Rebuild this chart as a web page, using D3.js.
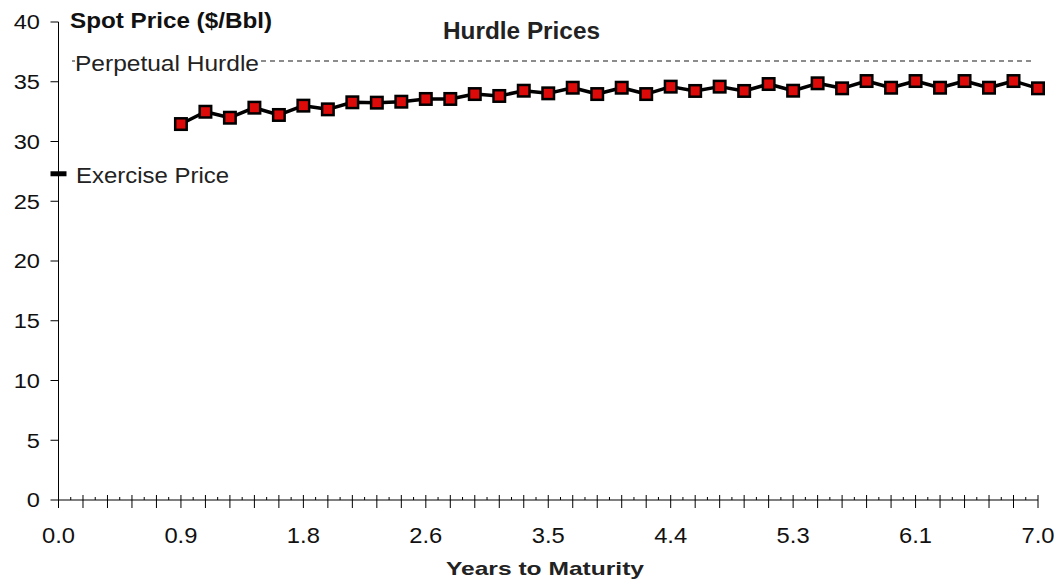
<!DOCTYPE html>
<html>
<head>
<meta charset="utf-8">
<script src="https://cdn.jsdelivr.net/npm/d3@7"></script>
<style>
  html, body { margin: 0; padding: 0; background: #fff; }
  svg { display: block; font-family: "Liberation Sans", Arial, sans-serif; }
</style>
</head>
<body>
<svg id="chart" width="1062" height="584"></svg>
<script>
// Category axis: years to maturity in steps of 0.175
const categoryStep = 0.175;
const categoryCount = 41;
const years = d3.range(categoryCount).map(i => +(i * categoryStep).toFixed(3));

// Hurdle spot prices ($/Bbl) from 0.875 years onward
const hurdleYears = years.slice(5);
const hurdlePrices = [
  31.46, 32.49, 31.99, 32.83, 32.22, 33.00, 32.69, 33.28, 33.25, 33.33,
  33.56, 33.56, 33.97, 33.81, 34.25, 34.03, 34.50, 33.97, 34.50, 33.97,
  34.59, 34.23, 34.59, 34.23, 34.81, 34.25, 34.87, 34.45, 35.06, 34.50,
  35.06, 34.50, 35.06, 34.50, 35.06, 34.45
];

// Reference levels
const perpetualHurdle = 36.7;
const exercisePrice = 27.3;

// Axis ticks
const xTickValues = [0, 0.875, 1.75, 2.625, 3.5, 4.375, 5.25, 6.125, 7.0];
const xTickLabels = ["0.0", "0.9", "1.8", "2.6", "3.5", "4.4", "5.3", "6.1", "7.0"];
const yTickValues = [0, 5, 10, 15, 20, 25, 30, 35, 40];

const svg = d3.select("#chart");

const x = d3.scaleLinear().domain([0, 7]).range([58.5, 1038]);
const y = d3.scaleLinear().domain([0, 40]).range([500, 22]);

// stretch a text element horizontally by a factor
function widen(sel, factor) {
  sel.each(function () {
    const w = this.getComputedTextLength();
    d3.select(this).attr("textLength", w * factor).attr("lengthAdjust", "spacingAndGlyphs");
  });
}

// ---- Y axis ----
const yAxis = svg.append("g").attr("transform", `translate(${x(0)},0)`);
yAxis.append("line")
  .attr("x1", 0).attr("x2", 0).attr("y1", y(40)).attr("y2", y(0))
  .attr("stroke", "#000").attr("stroke-width", 1);
yAxis.selectAll("line.tick").data(yTickValues).join("line")
  .attr("class", "tick")
  .attr("x1", -8).attr("x2", 0)
  .attr("y1", d => y(d)).attr("y2", d => y(d))
  .attr("stroke", "#000").attr("stroke-width", 1);
const yLabels = svg.selectAll("text.ylab").data(yTickValues).join("text")
  .attr("class", "ylab")
  .attr("x", 40).attr("y", d => y(d) + 7.3)
  .attr("text-anchor", "end")
  .attr("font-size", 20).attr("fill", "#111")
  .text(d => d);
widen(yLabels, 1.18);

// ---- X axis ----
const xAxis = svg.append("g").attr("transform", `translate(0,${y(0)})`);
xAxis.append("line")
  .attr("x1", x(0)).attr("x2", x(7)).attr("y1", 0).attr("y2", 0)
  .attr("stroke", "#000").attr("stroke-width", 1);
xAxis.selectAll("line.major").data(years).join("line")
  .attr("class", "major")
  .attr("x1", d => x(d)).attr("x2", d => x(d))
  .attr("y1", -5).attr("y2", 8)
  .attr("stroke", "#000").attr("stroke-width", 1);
xAxis.selectAll("line.minor").data(years.slice(0, -1)).join("line")
  .attr("class", "minor")
  .attr("x1", d => x(d + categoryStep / 2)).attr("x2", d => x(d + categoryStep / 2))
  .attr("y1", -3).attr("y2", 0)
  .attr("stroke", "#000").attr("stroke-width", 1);
const xLabels = svg.selectAll("text.xlab").data(xTickValues).join("text")
  .attr("class", "xlab")
  .attr("x", d => x(d)).attr("y", 543)
  .attr("text-anchor", "middle")
  .attr("font-size", 22).attr("fill", "#111")
  .text((d, i) => xTickLabels[i]);
widen(xLabels, 1.08);

// ---- Perpetual hurdle reference line ----
svg.append("line")
  .attr("x1", x(0) + 13).attr("x2", x(7) - 6)
  .attr("y1", Math.round(y(perpetualHurdle))).attr("y2", Math.round(y(perpetualHurdle)))
  .attr("stroke", "#8c8c8c").attr("stroke-width", 2)
  .attr("shape-rendering", "crispEdges")
  .attr("stroke-dasharray", "5,4");
svg.append("rect")
  .attr("x", 75).attr("y", y(perpetualHurdle) - 14)
  .attr("width", 186).attr("height", 24)
  .attr("fill", "#fff");
svg.append("text")
  .attr("x", 75).attr("y", 70.5)
  .attr("font-size", 22).attr("fill", "#222")
  .attr("textLength", 184).attr("lengthAdjust", "spacingAndGlyphs")
  .text("Perpetual Hurdle");

// ---- Exercise price marker ----
svg.append("line")
  .attr("x1", x(0) - 8).attr("x2", x(0) + 8)
  .attr("y1", y(exercisePrice)).attr("y2", y(exercisePrice))
  .attr("stroke", "#000").attr("stroke-width", 5);
svg.append("text")
  .attr("x", 76).attr("y", 182.5)
  .attr("font-size", 22).attr("fill", "#222")
  .attr("textLength", 153).attr("lengthAdjust", "spacingAndGlyphs")
  .text("Exercise Price");

// ---- Hurdle price series ----
const pts = hurdleYears.map((yr, i) => [yr, hurdlePrices[i]]);
svg.append("path")
  .datum(pts)
  .attr("fill", "none")
  .attr("stroke", "#000")
  .attr("stroke-width", 3.5)
  .attr("stroke-linejoin", "round")
  .attr("d", d3.line().x(d => x(d[0])).y(d => y(d[1])));

const ms = 11.5;
svg.selectAll("rect.marker").data(pts).join("rect")
  .attr("class", "marker")
  .attr("x", d => x(d[0]) - ms / 2)
  .attr("y", d => y(d[1]) - ms / 2)
  .attr("width", ms).attr("height", ms)
  .attr("fill", "#dd0a0a")
  .attr("stroke", "#000")
  .attr("stroke-width", 2.5);

// ---- Titles ----
svg.append("text")
  .attr("x", 70).attr("y", 27.5)
  .attr("font-size", 22).attr("font-weight", "bold").attr("fill", "#111")
  .attr("textLength", 202).attr("lengthAdjust", "spacingAndGlyphs")
  .text("Spot Price ($/Bbl)");
svg.append("text")
  .attr("x", 443).attr("y", 39)
  .attr("font-size", 23).attr("font-weight", "bold").attr("fill", "#222")
  .attr("textLength", 157).attr("lengthAdjust", "spacingAndGlyphs")
  .text("Hurdle Prices");
svg.append("text")
  .attr("x", 446).attr("y", 575)
  .attr("font-size", 19).attr("font-weight", "bold").attr("fill", "#222")
  .attr("textLength", 198).attr("lengthAdjust", "spacingAndGlyphs")
  .text("Years to Maturity");
</script>
</body>
</html>
